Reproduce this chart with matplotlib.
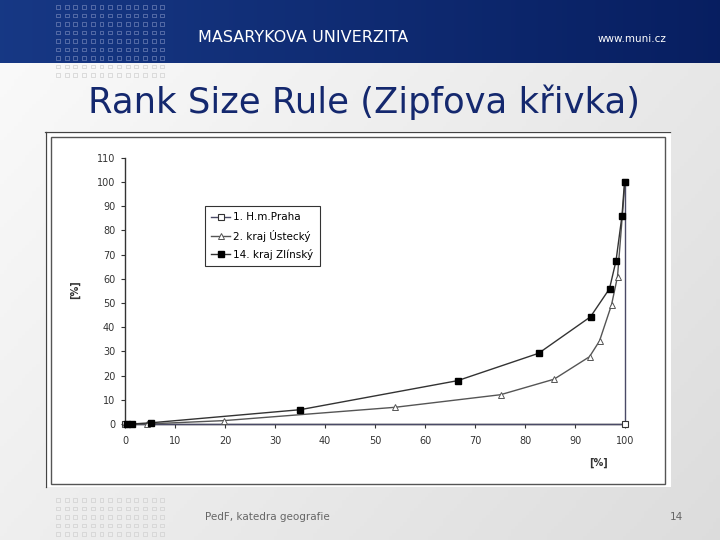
import numpy as np
import matplotlib.pyplot as plt
from matplotlib.patches import Rectangle

# data: cumulative % of municipalities (x) vs % of population (y)
praha_x = [0, 100, 100]
praha_y = [0, 0, 100]

ustecky_x = [0, 4.3, 19.8, 54, 75.1, 85.8, 92.9, 94.9, 97.3, 98.5, 100]
ustecky_y = [0, 0, 1.4, 6.9, 12.1, 18.5, 27.8, 34.3, 49.2, 60.9, 100]

zlinsky_x = [0.3, 1.3, 5.2, 35, 66.5, 82.7, 93.1, 96.9, 98.2, 99.4, 99.9]
zlinsky_y = [0, 0, 0.5, 5.9, 17.9, 29.2, 44.3, 55.9, 67.4, 86.1, 100]

labels = ["1. H.m.Praha", "2. kraj Ústecký", "14. kraj Zlínský"]

W, H = 720, 540
fig = plt.figure(figsize=(7.2, 5.4), dpi=100)

# slide background, drawn in pixel coordinates
bg = fig.add_axes([0, 0, 1, 1])
bg.set_xlim(0, W)
bg.set_ylim(H, 0)
bg.axis("off")

gx, gy = np.meshgrid(np.linspace(0, 1, 200), np.linspace(0, 1, 150))
t = 0.6 * gx + 0.4 * gy
grey = 0.985 - 0.12 * t
bg.imshow(np.dstack([grey, grey, grey]), extent=[0, W, H, 0], aspect="auto", zorder=0)

# header band
hx = np.linspace(0, 1, 300)[None, :]
c1 = np.array([0.09, 0.22, 0.52])
c2 = np.array([0.03, 0.12, 0.38])
band = c1[None, None, :] * (1 - hx[..., None]) + c2[None, None, :] * hx[..., None]
bg.imshow(band, extent=[0, W, 63, 0], aspect="auto", zorder=1)

# little square dot pattern (header + footer)
cols = np.arange(13) * 8.7 + 58
for r in range(9):
    yy = 7 + r * 8.5
    col = "#6d80b6" if yy < 62 else "#d0d0d0"
    bg.scatter(cols, [yy] * len(cols), marker="s", s=8, facecolors="none",
               edgecolors=col, linewidths=0.5, zorder=2)
for r in range(5):
    yy = 500 + r * 8.5
    bg.scatter(cols, [yy] * len(cols), marker="s", s=8, facecolors="none",
               edgecolors="#d0d0d0", linewidths=0.5, zorder=2)

bg.text(198, 38, "MASARYKOVA UNIVERZITA", color="white", fontsize=11.5,
        va="center", ha="left", zorder=3)
bg.text(666, 39, "www.muni.cz", color="white", fontsize=7.5,
        va="center", ha="right", zorder=3)

bg.text(364, 102, "Rank Size Rule (Zipfova křivka)", color="#14286e",
        fontsize=25.5, va="center", ha="center", zorder=3)

bg.text(205, 517, "PedF, katedra geografie", color="#666666", fontsize=7.5,
        va="center", ha="left", zorder=3)
bg.text(683, 517, "14", color="#666666", fontsize=7.5,
        va="center", ha="right", zorder=3)

# chart picture frame
bg.add_patch(Rectangle((45, 131), 626, 356, facecolor="white", edgecolor="none", zorder=3))
bg.plot([45, 670], [132, 132], color="#444444", lw=0.9, zorder=4)
bg.plot([46, 46], [132, 487], color="#444444", lw=0.9, zorder=4)
bg.add_patch(Rectangle((51, 137), 614, 347, facecolor="white",
                       edgecolor="#555555", lw=1.0, zorder=4))

# the chart itself
ax = fig.add_axes([125 / W, 1 - 424 / H, 500 / W, (424 - 157.8) / H])
ax.set_zorder(5)
ax.patch.set_alpha(0)

ax.plot(praha_x, praha_y, color="#4a4a66", lw=1.0, marker="s", ms=5,
        mfc="white", mec="#333333", mew=0.8, label=labels[0], clip_on=False, zorder=3)
ax.plot(ustecky_x, ustecky_y, color="#555555", lw=1.0, marker="^", ms=4.8,
        mfc="white", mec="#555555", mew=0.7, label=labels[1], clip_on=False, zorder=4)
ax.plot(zlinsky_x, zlinsky_y, color="#333333", lw=1.0, marker="s", ms=5,
        mfc="black", mec="black", label=labels[2], clip_on=False, zorder=5)

ax.set_xlim(0, 100)
ax.set_ylim(0, 110)
ax.set_xticks(range(0, 101, 10))
ax.set_yticks(range(0, 111, 10))
for s in ["top", "right"]:
    ax.spines[s].set_visible(False)
for s in ["left", "bottom"]:
    ax.spines[s].set_color("#333333")
    ax.spines[s].set_linewidth(1.0)
ax.tick_params(direction="out", length=3, width=0.8, colors="#333333",
               labelsize=7, pad=4)
ax.tick_params(axis="x", pad=6)

ax.set_xlabel("[%]", fontsize=7, color="#333333", fontweight="bold")
ax.xaxis.set_label_coords(0.946, -0.125)
ax.set_ylabel("[%]", fontsize=7, color="#333333", fontweight="bold")
ax.yaxis.set_label_coords(-0.09, 0.505)

leg = ax.legend(loc="upper left", bbox_to_anchor=(200 / W, 1 - 201 / H),
                bbox_transform=fig.transFigure, fontsize=7.5, frameon=True,
                fancybox=False, edgecolor="black", handlelength=1.8,
                handletextpad=0.3, borderpad=0.6, labelspacing=0.7)
leg.get_frame().set_linewidth(0.8)

fig.savefig("out.png", dpi=100)
